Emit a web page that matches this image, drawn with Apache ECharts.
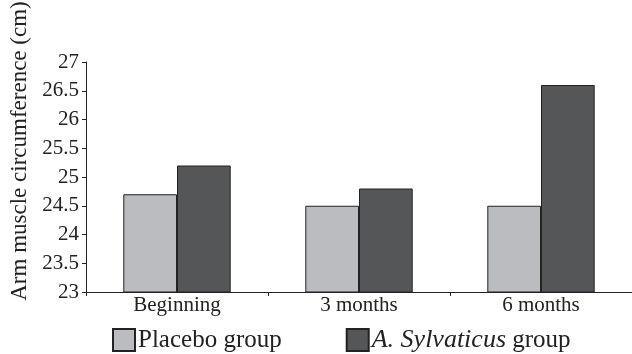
<!DOCTYPE html>
<html>
<head>
<meta charset="utf-8">
<script src="https://cdn.jsdelivr.net/npm/echarts@6/dist/echarts.min.js"></script>
<style>
  html, body { margin: 0; padding: 0; background: #fff; }
  #chart { width: 632px; height: 354px; }
</style>
</head>
<body>
<div id="chart"></div>
<script>
// 数据
var categories = ['Beginning', '3 months', '6 months'];
var placebo = [24.7, 24.5, 24.5];
var sylvaticus = [25.2, 24.8, 26.6];
var yTicks = ['23', '23.5', '24', '24.5', '25', '25.5', '26', '26.5', '27'];

var font = 'Liberation Serif';
var myChart = echarts.init(document.getElementById('chart'));

var option = {
  animation: false,
  textStyle: { fontFamily: font, color: '#222' },
  grid: { left: 86, right: 0, top: 62, bottom: 62 },
  // 纵轴标题（偏上，单独画）
  graphic: [{
    type: 'text',
    x: 20,
    y: 151,
    rotation: Math.PI / 2,
    style: {
      text: 'Arm muscle circumference (cm)',
      font: '23px "Liberation Serif"',
      fill: '#222',
      align: 'center',
      verticalAlign: 'middle'
    }
  }],
  legend: {
    left: 107,
    top: 322,
    itemWidth: 22,
    itemHeight: 22,
    itemGap: 64,
    icon: 'rect',
    textStyle: {
      fontFamily: font,
      fontSize: 25,
      lineHeight: 26,
      color: '#222',
      padding: [0, 0, 0, -2],
      rich: {
        it: { fontFamily: font, fontSize: 26, lineHeight: 26, fontStyle: 'italic', color: '#222' },
        n: { fontFamily: font, fontSize: 25, lineHeight: 26, color: '#222' }
      }
    },
    formatter: function (name) {
      if (name === 'A. Sylvaticus group') {
        return '{it|A. Sylvaticus} {n|group}';
      }
      return '{n|' + name + '}';
    },
    data: ['Placebo group', 'A. Sylvaticus group']
  },
  xAxis: {
    type: 'category',
    data: categories,
    axisLine: { lineStyle: { color: '#222', width: 1 } },
    axisTick: { show: true, length: 4, lineStyle: { color: '#222' } },
    axisLabel: { fontFamily: font, fontSize: 21, color: '#222', margin: 3 }
  },
  yAxis: {
    type: 'value',
    min: 23,
    max: 27,
    interval: 0.5,
    splitLine: { show: false },
    axisLine: { show: true, lineStyle: { color: '#222', width: 1 } },
    axisTick: { show: true, length: 4, lineStyle: { color: '#222' } },
    axisLabel: {
      fontFamily: font, fontSize: 21, color: '#222', margin: 7,
      formatter: function (v) { return yTicks[Math.round((v - 23) / 0.5)]; }
    }
  },
  series: [
    {
      name: 'Placebo group',
      type: 'bar',
      data: placebo,
      barGap: '0%',
      barCategoryGap: '41%',
      itemStyle: { color: '#bbbcc0', borderColor: '#222', borderWidth: 1 }
    },
    {
      name: 'A. Sylvaticus group',
      type: 'bar',
      data: sylvaticus,
      itemStyle: { color: '#555658', borderColor: '#222', borderWidth: 1 }
    }
  ]
};
myChart.setOption(option);
</script>
</body>
</html>
